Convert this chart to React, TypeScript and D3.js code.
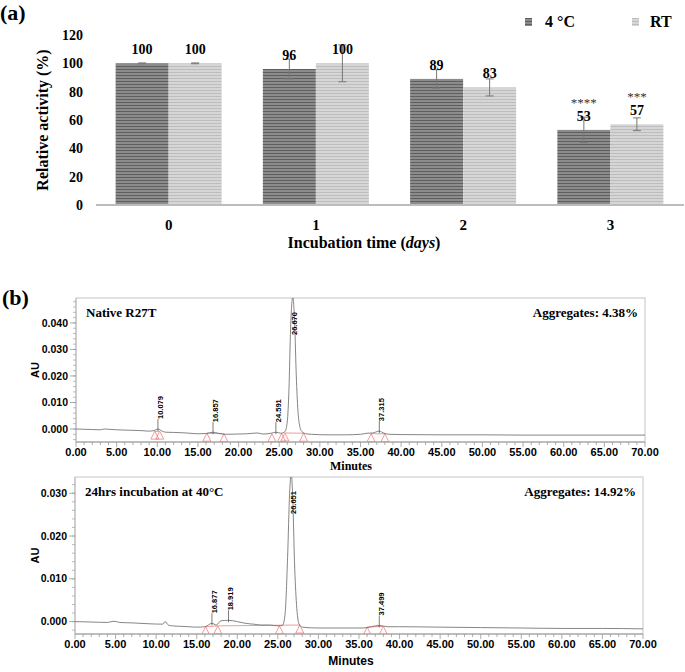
import React from "react";
import * as d3 from "d3";

// ---- panel (a) data ----
const days = ["0", "1", "2", "3"];
const activity4C = [100, 96, 89, 53];
const activityRT = [100, 100, 83, 57];
const error4C = [0.3, 7, 6.5, 9];
const errorRT = [0.3, 13, 6, 4.5];
const stars4C = ["", "", "", "****"];
const starsRT = ["", "", "", "***"];
const activityTicks = [0, 20, 40, 60, 80, 100, 120];

// ---- panel (b) data ----
const minuteTicks = [0, 5, 10, 15, 20, 25, 30, 35, 40, 45, 50, 55, 60, 65, 70];
const auTicksNative = [0, 0.01, 0.02, 0.03, 0.04];
const auTicksIncubated = [0, 0.01, 0.02, 0.03];

// [minutes, AU]
const nativeTrace: [number, number][] = [
  [0, 0.0], [1, -0.0001], [2, -0.0002], [3, -0.0003], [3.5, 0.0], [4, -0.0001],
  [5, -0.0003], [6, -0.0004], [7, -0.0005], [8, -0.0006], [9, -0.0008], [9.6, -0.0006],
  [10.08, 0.0], [10.6, -0.0008], [11, -0.0012], [12, -0.0013], [13, -0.0014],
  [14, -0.0016], [15, -0.0018], [16, -0.0017], [16.86, -0.0012], [17.5, -0.0016],
  [18.5, -0.002], [20, -0.0019], [21, -0.0018], [22.3, -0.0015], [23, -0.0019],
  [24, -0.0016], [24.59, -0.0012], [25.2, -0.0016], [25.7, -0.001], [26.0, 0.003],
  [26.2, 0.015], [26.4, 0.038], [26.67, 0.0497], [26.9, 0.04], [27.1, 0.02],
  [27.3, 0.007], [27.5, 0.0015], [27.8, -0.001], [28.3, -0.0018], [29, -0.002],
  [31, -0.0022], [33, -0.0022], [35, -0.002], [35.8, -0.0016], [36.5, -0.0015],
  [37.3, -0.0008], [37.9, -0.0016], [38.5, -0.002], [40, -0.0021], [45, -0.0022],
  [50, -0.0022], [55, -0.0023], [60, -0.0023], [65, -0.0023], [70, -0.0023],
];
const incubatedTrace: [number, number][] = [
  [0, 0.0], [2, -0.0001], [4, -0.0002], [4.8, 0.0001], [5.5, -0.0002], [7, -0.0003],
  [9, -0.0005], [10.8, -0.0006], [11.1, 0.0], [11.5, -0.0008], [12, -0.001],
  [13, -0.0011], [14, -0.0012], [15, -0.0013], [16, -0.0012], [16.88, -0.0004],
  [17.4, -0.0008], [18, 0.0002], [18.92, 0.0003], [20, 0.0], [21, -0.0004],
  [22, -0.0006], [23, -0.0008], [24, -0.0008], [25, -0.001], [25.6, -0.0008],
  [25.9, 0.002], [26.2, 0.015], [26.45, 0.03], [26.65, 0.0345], [26.85, 0.028],
  [27.05, 0.014], [27.3, 0.004], [27.6, -0.0005], [28, -0.0013], [30, -0.0015],
  [33, -0.0015], [35.5, -0.0015], [36.5, -0.0012], [37.5, -0.0009], [38.5, -0.0012],
  [40, -0.0012], [45, -0.0013], [50, -0.0014], [55, -0.0015], [60, -0.0016],
  [65, -0.0016], [70, -0.0017],
];

const nativePeaks = [
  { rt: 10.079, au: 0.0 },
  { rt: 16.857, au: -0.0012 },
  { rt: 24.591, au: -0.0012 },
  { rt: 26.67, au: 0.0497 },
  { rt: 37.315, au: -0.0008 },
];
const incubatedPeaks = [
  { rt: 16.877, au: -0.0004 },
  { rt: 18.919, au: 0.0003 },
  { rt: 26.651, au: 0.0345 },
  { rt: 37.499, au: -0.0009 },
];

// integration marks (triangles) and baselines
const nativeMarks: [number, number][] = [
  [9.7, -0.0008], [10.3, -0.0008], [16.1, -0.0016], [18.2, -0.0018], [24.1, -0.0018],
  [25.3, -0.0017], [25.7, -0.0015], [28.0, -0.0016], [36.3, -0.0018], [38.0, -0.0018],
];
const nativeBaselines: [number, number, number, number][] = [
  [9.7, -0.0009, 10.3, -0.0009],
  [16.1, -0.0016, 18.2, -0.0018],
  [25.7, -0.0015, 28.0, -0.0016],
  [36.3, -0.0018, 38.0, -0.0018],
];
const incubatedMarks: [number, number][] = [
  [16.1, -0.0012], [17.6, -0.001], [25.2, -0.001], [27.7, -0.0008], [36.0, -0.0013], [38.0, -0.0011],
];
const incubatedBaselines: [number, number, number, number][] = [
  [16.1, -0.0012, 17.6, -0.001],
  [17.6, -0.001, 27.7, -0.0008],
  [36.0, -0.0013, 38.0, -0.0011],
];

const SERIF = "'Liberation Serif', 'Times New Roman', serif";
const SANS = "'Liberation Sans', Arial, sans-serif";

const BarPanel = () => {
  const x = d3.scaleBand().domain(days).range([95, 684]).paddingInner(0.28).paddingOuter(0.14);
  const sub = d3.scaleBand().domain(["4C", "RT"]).range([0, x.bandwidth()]);
  const y = d3.scaleLinear().domain([0, 120]).range([205, 35]);
  const series = [
    { key: "4C", values: activity4C, errs: error4C, stars: stars4C, fill: "url(#stripeDark)" },
    { key: "RT", values: activityRT, errs: errorRT, stars: starsRT, fill: "url(#stripeLight)" },
  ];
  return (
    <g>
      <defs>
        <pattern id="stripeDark" width="4" height="3" patternUnits="userSpaceOnUse">
          <rect width="4" height="3" fill="#8c8c8c" />
          <rect width="4" height="1" fill="#5f5f5f" />
        </pattern>
        <pattern id="stripeLight" width="4" height="3" patternUnits="userSpaceOnUse">
          <rect width="4" height="3" fill="#d6d6d6" />
          <rect width="4" height="1" fill="#bdbdbd" />
        </pattern>
      </defs>
      <text x={0} y={20} fontFamily={SERIF} fontWeight="bold" fontSize={22}>(a)</text>

      {activityTicks.map((t) => (
        <text key={t} x={83} y={y(t)} dy="0.35em" textAnchor="end" fontFamily={SERIF} fontWeight="bold" fontSize={14}>
          {t}
        </text>
      ))}
      <text transform={`translate(48,${y(60)}) rotate(-90)`} textAnchor="middle" fontFamily={SERIF} fontWeight="bold" fontSize={16}>
        Relative activity (%)
      </text>

      {series.map((s) =>
        days.map((d, i) => {
          const bx = (x(d) ?? 0) + (sub(s.key) ?? 0);
          const bw = sub.bandwidth();
          const cx = bx + bw / 2;
          const v = s.values[i];
          const e = s.errs[i];
          return (
            <g key={s.key + d}>
              <rect x={bx} y={y(v)} width={bw} height={y(0) - y(v)} fill={s.fill} />
              <line x1={cx} x2={cx} y1={y(v + e)} y2={y(v - e)} stroke="#777" strokeWidth={1} />
              <line x1={cx - 4} x2={cx + 4} y1={y(v + e)} y2={y(v + e)} stroke="#777" strokeWidth={1} />
              <line x1={cx - 4} x2={cx + 4} y1={y(v - e)} y2={y(v - e)} stroke="#777" strokeWidth={1} />
              <text x={cx} y={y(v) - 9} textAnchor="middle" fontFamily={SERIF} fontWeight="bold" fontSize={14}>
                {v}
              </text>
              {s.stars[i] && (
                <text x={cx} y={y(v) - 23} textAnchor="middle" fontFamily={SERIF} fontSize={13} fill="#333">
                  {s.stars[i]}
                </text>
              )}
            </g>
          );
        })
      )}

      <line x1={96} x2={684} y1={y(0)} y2={y(0)} stroke="#bcbcbc" strokeWidth={2} />
      {days.map((d) => (
        <text key={d} x={(x(d) ?? 0) + x.bandwidth() / 2} y={230} textAnchor="middle" fontFamily={SERIF} fontWeight="bold" fontSize={15}>
          {d}
        </text>
      ))}
      <text x={364} y={248} textAnchor="middle" fontFamily={SERIF} fontWeight="bold" fontSize={16}>
        Incubation time (<tspan fontStyle="italic">days</tspan>)
      </text>

      <rect x={525} y={18} width={7} height={8} fill="url(#stripeDark)" />
      <text x={545} y={27} fontFamily={SERIF} fontWeight="bold" fontSize={16}>4 °C</text>
      <rect x={632} y={18} width={7} height={8} fill="url(#stripeLight)" />
      <text x={650} y={27} fontFamily={SERIF} fontWeight="bold" fontSize={16}>RT</text>
    </g>
  );
};

type ChromProps = {
  id: string;
  left: number;
  right: number;
  top: number;
  bottom: number;
  auDomain: [number, number];
  auTicks: number[];
  trace: [number, number][];
  peaks: { rt: number; au: number }[];
  marks: [number, number][];
  baselines: [number, number, number, number][];
  title: string;
  aggregates: string;
  minutesFont: string;
  minutesY: number;
};

const Chromatogram = (p: ChromProps) => {
  const x = d3.scaleLinear().domain([0, 70]).range([p.left, p.right]);
  const y = d3.scaleLinear().domain(p.auDomain).range([p.bottom, p.top]);
  const line = d3
    .line<[number, number]>()
    .x((d) => x(d[0]))
    .y((d) => y(d[1]))
    .curve(d3.curveMonotoneX);
  const minorX = d3.range(0, 71, 1);
  const minorY = d3.range(-0.004, p.auDomain[1], 0.002).filter((v) => y(v) <= p.bottom && y(v) >= p.top);
  const red = "#f08080";
  return (
    <g>
      <defs>
        <clipPath id={p.id}>
          <rect x={p.left} y={p.top} width={p.right - p.left} height={p.bottom - p.top} />
        </clipPath>
      </defs>
      <rect x={p.left} y={p.top} width={p.right - p.left} height={p.bottom - p.top} fill="none" stroke="#c4c4c4" strokeWidth={1} />
      <line x1={p.left} x2={p.right} y1={p.bottom} y2={p.bottom} stroke="#999" />
      <line x1={p.left} x2={p.left} y1={p.top} y2={p.bottom} stroke="#bbb" />

      {minorX.map((t) => (
        <line key={"mx" + t} x1={x(t)} x2={x(t)} y1={p.bottom} y2={p.bottom + (t % 5 === 0 ? 5 : 3)} stroke="#999" strokeWidth={0.8} />
      ))}
      {minuteTicks.map((t) => (
        <text key={"tx" + t} x={x(t)} y={p.bottom + 14} textAnchor="middle" fontFamily={SANS} fontWeight="bold" fontSize={11}>
          {t.toFixed(2)}
        </text>
      ))}
      <text x={351} y={p.minutesY} textAnchor="middle" fontFamily={p.minutesFont} fontWeight="bold" fontSize={12}>
        Minutes
      </text>

      {minorY.map((v, i) => (
        <line key={"my" + i} x1={p.left - 3} x2={p.left} y1={y(v)} y2={y(v)} stroke="#aaa" strokeWidth={0.8} />
      ))}
      {p.auTicks.map((t) => (
        <g key={"ty" + t}>
          <line x1={p.left - 6} x2={p.left} y1={y(t)} y2={y(t)} stroke="#999" strokeWidth={0.8} />
          <text x={p.left - 8} y={y(t)} dy="0.35em" textAnchor="end" fontFamily={SANS} fontWeight="bold" fontSize={10.5}>
            {t.toFixed(3)}
          </text>
        </g>
      ))}
      <text transform={`translate(39,${(p.top + p.bottom) / 2}) rotate(-90)`} textAnchor="middle" fontFamily={SANS} fontWeight="bold" fontSize={11}>
        AU
      </text>

      <g clipPath={`url(#${p.id})`}>
        {p.baselines.map((b, i) => (
          <line key={"b" + i} x1={x(b[0])} y1={y(b[1])} x2={x(b[2])} y2={y(b[3])} stroke={red} strokeWidth={0.8} />
        ))}
        {p.marks.map((m, i) => {
          const mx = x(m[0]);
          const my = y(m[1]);
          return (
            <path key={"m" + i} d={`M${mx},${my} L${mx - 4},${my + 8} L${mx + 4},${my + 8} Z`} fill="none" stroke={red} strokeWidth={0.8} />
          );
        })}
        <path d={line(p.trace) ?? ""} fill="none" stroke="#666" strokeWidth={0.8} />
      </g>

      {p.peaks.map((pk) => {
        const px = x(pk.rt);
        const apex = y(pk.au);
        const anchor = apex - 10 < p.top + 40 ? p.top + 37 : apex - 10;
        return (
          <g key={"p" + pk.rt}>
            {apex - 10 >= p.top + 40 && <line x1={px} x2={px} y1={anchor} y2={apex + 2} stroke="#444" strokeWidth={0.7} />}
            <text transform={`translate(${px + 2},${anchor}) rotate(-90)`} dy="0.35em" fontFamily={SANS} fontWeight="bold" fontSize={7.5}>
              {pk.rt.toFixed(3)}
            </text>
          </g>
        );
      })}

      <text x={p.left + 10} y={p.top + 19} fontFamily={SERIF} fontWeight="bold" fontSize={13}>
        {p.title}
      </text>
      <text x={p.right - 7} y={p.top + 19} textAnchor="end" fontFamily={SERIF} fontWeight="bold" fontSize={13}>
        {p.aggregates}
      </text>
    </g>
  );
};

export default function App() {
  return (
    <svg
      width={685}
      height={672}
      style={{ position: "absolute", left: 0, top: 0, background: "#fff" }}
    >
      <rect width={685} height={672} fill="#fff" />
      <BarPanel />
      <text x={2} y={305} fontFamily={SERIF} fontWeight="bold" fontSize={22}>(b)</text>
      <Chromatogram
        id="clipNative"
        left={76}
        right={645}
        top={298}
        bottom={442}
        auDomain={[-0.0049, 0.0494]}
        auTicks={auTicksNative}
        trace={nativeTrace}
        peaks={nativePeaks}
        marks={nativeMarks}
        baselines={nativeBaselines}
        title="Native R27T"
        aggregates="Aggregates: 4.38%"
        minutesFont={SERIF}
        minutesY={470}
      />
      <Chromatogram
        id="clipIncubated"
        left={75}
        right={643}
        top={477}
        bottom={634}
        auDomain={[-0.0029, 0.0338]}
        auTicks={auTicksIncubated}
        trace={incubatedTrace}
        peaks={incubatedPeaks}
        marks={incubatedMarks}
        baselines={incubatedBaselines}
        title="24hrs incubation at 40°C"
        aggregates="Aggregates: 14.92%"
        minutesFont={SANS}
        minutesY={665}
      />
    </svg>
  );
}
